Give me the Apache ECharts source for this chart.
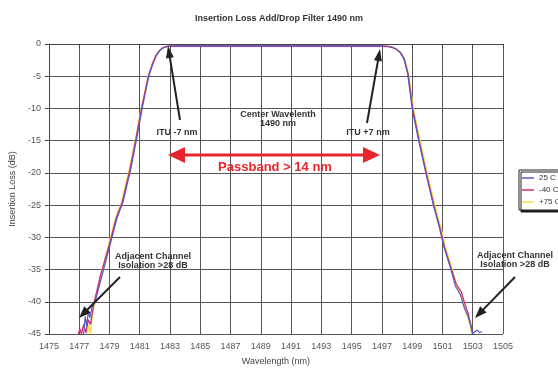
<!DOCTYPE html>
<html>
<head>
<meta charset="utf-8">
<script src="https://cdn.jsdelivr.net/npm/echarts@6/dist/echarts.min.js"></script>
<style>
html, body { margin: 0; padding: 0; background: #fff; }
#main { width: 558px; height: 371px; }
</style>
</head>
<body>
<div id="main"></div>
<script>
// wavelength (nm) / insertion loss (dB)
var wl25 = [1477.3, 1477.4, 1477.5, 1477.6, 1477.7, 1477.85, 1478.05, 1478.5, 1479.0, 1479.5, 1479.9, 1480.4, 1480.8, 1481.16, 1481.6, 1481.85, 1482.1, 1482.3, 1482.5, 1482.7, 1483.0, 1490.0, 1497.0, 1497.4, 1497.7, 1497.95, 1498.2, 1498.45, 1498.7, 1499.0, 1499.4, 1499.9, 1500.4, 1500.8, 1501.1, 1501.5, 1501.85, 1502.2, 1502.45, 1502.7, 1502.85, 1503.0, 1503.15, 1503.3, 1503.45, 1503.6];
var loss25 = [-45, -42.3, -43.8, -41.5, -42.5, -40.8, -40, -36, -31.5, -27, -24.5, -19.5, -14.7, -10, -5, -3.2, -1.8, -1.1, -0.65, -0.42, -0.3, -0.3, -0.3, -0.35, -0.5, -0.8, -1.3, -2.3, -4.6, -10, -14.7, -20, -25, -28.5, -31.5, -34.5, -37.5, -39, -41, -42.3, -43.5, -45, -44.6, -44.4, -44.8, -44.6];

var wl40 = [1476.95, 1477.05, 1477.15, 1477.3, 1477.45, 1477.6, 1477.75, 1477.95, 1478.4, 1478.95, 1479.45, 1479.85, 1480.35, 1480.75, 1481.12, 1481.57, 1481.82, 1482.07, 1482.28, 1482.48, 1482.7, 1483.0, 1490.0, 1497.0, 1497.4, 1497.7, 1497.98, 1498.23, 1498.48, 1498.73, 1499.03, 1499.43, 1499.93, 1500.43, 1500.83, 1501.13, 1501.53, 1501.9, 1502.25, 1502.5, 1502.7, 1502.8, 1502.9, 1503.0];
var loss40 = [-45, -44.2, -45, -43.5, -44.8, -42.8, -43.5, -40.5, -36, -31.5, -27, -24.5, -19.5, -14.7, -10, -5, -3.2, -1.8, -1.1, -0.65, -0.45, -0.35, -0.35, -0.35, -0.4, -0.55, -0.85, -1.35, -2.3, -4.6, -10, -14.7, -20, -25, -28.5, -31.5, -34.5, -37.2, -38.5, -40.5, -41.8, -42.8, -43.8, -45];

var wl75 = [1477.55, 1477.65, 1477.75, 1477.85, 1478.0, 1478.4, 1478.9, 1479.4, 1479.8, 1480.3, 1480.72, 1481.1, 1481.55, 1481.8, 1482.05, 1482.27, 1482.48, 1482.7, 1483.0, 1490.0, 1497.0, 1497.4, 1497.72, 1498.0, 1498.25, 1498.5, 1498.76, 1499.08, 1499.5, 1500.0, 1500.5, 1500.9, 1501.2, 1501.6, 1501.95, 1502.3, 1502.55, 1502.8, 1502.95];
var loss75 = [-45, -43.5, -45, -42.5, -40.5, -36, -31.5, -27, -24.5, -19.5, -14.7, -10, -5, -3.2, -1.8, -1.1, -0.65, -0.4, -0.25, -0.25, -0.25, -0.3, -0.5, -0.8, -1.3, -2.3, -4.6, -10, -14.7, -20, -25, -28.5, -31.5, -34.5, -37.5, -39.5, -41.5, -43.5, -45];

var seriesNames = ['25 C', '-40 C', '+75 C'];
var seriesColors = ['#5858c2', '#d4287c', '#f0e64a'];

function pairs(xs, ys) {
    return xs.map(function (x, i) { return [x, ys[i]]; });
}

// arrow: line from (x1,y1) to tip (x2,y2) with a filled head
function arrow(x1, y1, x2, y2, color, width, headL, headW) {
    var dx = x2 - x1, dy = y2 - y1;
    var len = Math.sqrt(dx * dx + dy * dy);
    var ux = dx / len, uy = dy / len;
    var bx = x2 - ux * headL, by = y2 - uy * headL;
    return [{
        type: 'line',
        shape: { x1: x1, y1: y1, x2: bx + ux * 1, y2: by + uy * 1 },
        style: { stroke: color, lineWidth: width },
        z: 100
    }, {
        type: 'polygon',
        shape: { points: [[x2, y2], [bx - uy * headW / 2, by + ux * headW / 2], [bx + uy * headW / 2, by - ux * headW / 2]] },
        style: { fill: color },
        z: 100
    }];
}

function label(x, y, text, size, color) {
    return {
        type: 'text', x: x, y: y, z: 100,
        style: {
            text: text, fill: color || '#333', align: 'center', verticalAlign: 'middle',
            font: 'bold ' + (size || 9) + 'px "Liberation Sans", Arial, sans-serif'
        }
    };
}

var graphics = []
    .concat(arrow(180, 120, 168, 46, '#222', 2, 12, 8))
    .concat(arrow(367, 123, 380, 49, '#222', 2, 12, 8))
    .concat(arrow(120, 277, 79, 318, '#222', 2, 12, 9))
    .concat(arrow(515, 277, 475, 318, '#222', 2, 12, 9))
    .concat(arrow(274, 155, 168, 155, '#e8242c', 3, 17, 16))
    .concat(arrow(274, 155, 380, 155, '#e8242c', 3, 17, 16))
    .concat([
        label(177, 133, 'ITU -7 nm'),
        label(368, 133, 'ITU +7 nm'),
        label(278, 115, 'Center Wavelenth'),
        label(278, 124, '1490 nm'),
        label(275, 167, 'Passband > 14 nm', 13, '#e8242c'),
        label(153, 257, 'Adjacent Channel'),
        label(153, 266, 'Isolation >28 dB'),
        label(515, 256, 'Adjacent Channel'),
        label(515, 265, 'Isolation >28 dB')
    ]);

var myChart = echarts.init(document.getElementById('main'));

var option = {
    animation: false,
    backgroundColor: '#fff',
    textStyle: { fontFamily: '"Liberation Sans", Arial, sans-serif' },
    title: {
        text: 'Insertion Loss Add/Drop Filter 1490 nm',
        left: 'center',
        top: 9,
        textStyle: { fontSize: 9, fontWeight: 'bold', color: '#333' }
    },
    legend: {
        data: seriesNames,
        orient: 'vertical',
        left: 519,
        top: 170,
        icon: 'rect',
        itemWidth: 12,
        itemHeight: 1.5,
        itemGap: 4,
        padding: [4, 10, 4, 3],
        backgroundColor: '#fff',
        borderColor: '#222',
        borderWidth: 1,
        shadowColor: 'rgba(0,0,0,0.85)',
        shadowOffsetX: 2,
        shadowOffsetY: 2,
        shadowBlur: 0,
        textStyle: { fontSize: 8, color: '#333' }
    },
    grid: { left: 45, right: 55, top: 44, bottom: 33 },
    xAxis: {
        type: 'value',
        min: 1475,
        max: 1505,
        interval: 2,
        name: 'Wavelength (nm)',
        nameLocation: 'middle',
        nameGap: 23,
        nameTextStyle: { fontSize: 9, color: '#444' },
        axisLine: { lineStyle: { color: '#444' } },
        axisTick: { length: 4, lineStyle: { color: '#444' } },
        axisLabel: { fontSize: 9, color: '#555', margin: 8, formatter: function (v) { return String(v); } },
        splitLine: { show: true, lineStyle: { color: '#555', width: 1 } }
    },
    yAxis: {
        type: 'value',
        min: -45,
        max: 0,
        interval: 5,
        name: 'Insertion Loss (dB)',
        nameLocation: 'middle',
        nameGap: 30,
        nameTextStyle: { fontSize: 9, color: '#444' },
        axisLine: { show: true, lineStyle: { color: '#444' } },
        axisTick: { show: true, length: 4, lineStyle: { color: '#444' } },
        axisLabel: { fontSize: 9, color: '#555', margin: 8 },
        splitLine: { show: true, lineStyle: { color: '#555', width: 1 } }
    },
    series: [{
        name: '+75 C',
        type: 'line',
        symbol: 'none',
        z: 2,
        color: seriesColors[2],
        lineStyle: { width: 1.3 },
        data: pairs(wl75, loss75)
    }, {
        name: '-40 C',
        type: 'line',
        symbol: 'none',
        z: 3,
        color: seriesColors[1],
        lineStyle: { width: 1.3 },
        data: pairs(wl40, loss40)
    }, {
        name: '25 C',
        type: 'line',
        symbol: 'none',
        z: 4,
        color: seriesColors[0],
        lineStyle: { width: 1.2 },
        data: pairs(wl25, loss25)
    }],
    graphic: graphics
};

myChart.setOption(option);
</script>
</body>
</html>
